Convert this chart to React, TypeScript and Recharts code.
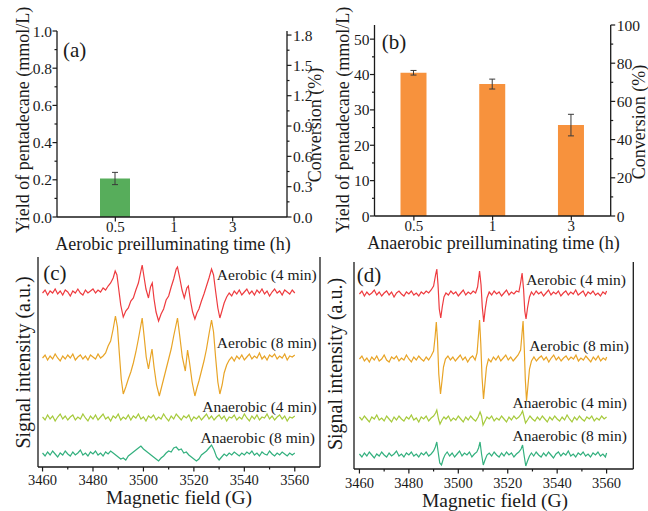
import { BarChart, Bar, XAxis, YAxis, ErrorBar, LineChart, Line } from "recharts";

const SERIF = "'Liberation Serif', 'Times New Roman', Times, 'DejaVu Serif', serif";
const INK = "#1a1a1a";

// (a) aerobic / (b) anaerobic preilluminating time
const timesA = ["0.5", "1", "3"];
const yieldA = [0.207, null, null];
const errA = [0.033, null, null];
const timesB = ["0.5", "1", "3"];
const yieldB = [40.5, 37.3, 25.7];
const errB = [0.65, 1.4, 3.05];

const yTicksA = [0, 0.1, 0.2, 0.3, 0.4, 0.5, 0.6, 0.7, 0.8, 0.9, 1.0];
const convTicksA = [0, 0.15, 0.3, 0.45, 0.6, 0.75, 0.9, 1.05, 1.2, 1.35, 1.5, 1.65, 1.8];
const yTicksB = [0, 5, 10, 15, 20, 25, 30, 35, 40, 45, 50];
const convTicksB = [0, 10, 20, 30, 40, 50, 60, 70, 80, 90, 100];
const fieldTicks = [3460, 3470, 3480, 3490, 3500, 3510, 3520, 3530, 3540, 3550, 3560];

// EPR spectra (field G, offset intensity a.u.)
const cRed: [number, number][] = [[3460,174],[3461,177],[3462,172],[3463,176],[3464,174],[3465,178],[3466,173],[3467,176],[3468,172],[3469,177],[3470,175],[3471,171],[3472,176],[3473,174],[3474,178],[3475,174],[3476,172],[3477,177],[3478,174],[3479,176],[3480,178],[3481,174],[3482,177],[3483,175],[3484,179],[3485,177],[3486,181],[3487,184],[3488,189],[3488.8,196],[3489.5,192],[3490.2,178],[3491,162],[3492,150],[3493,156],[3494,159],[3495,166],[3496,169],[3497,177],[3498,184],[3499,196],[3499.5,202],[3500.3,189],[3501,178],[3502,169],[3502.8,180],[3503.5,184],[3504.2,168],[3505,155],[3506,146],[3507,153],[3508,158],[3509,167],[3510,171],[3511,180],[3512,188],[3513,198],[3513.5,200],[3514.4,189],[3515.3,177],[3516.2,169],[3517.2,179],[3517.8,181],[3518.6,167],[3519.5,155],[3520.4,148],[3521.2,154],[3522,158],[3523,166],[3524,173],[3525,181],[3526,189],[3527,198],[3527.8,192],[3528.6,176],[3529.5,159],[3530.3,149],[3531,155],[3532,164],[3533,170],[3534,174],[3535,171],[3536,176],[3537,173],[3538,177],[3539,172],[3540,175],[3541,178],[3542,173],[3543,176],[3544,172],[3545,177],[3546,174],[3547,178],[3548,173],[3549,176],[3550,171],[3551,175],[3552,178],[3553,174],[3554,176],[3555,172],[3556,177],[3557,175],[3558,173],[3559,177],[3560,174]];
const cOrange: [number, number][] = [[3460,109],[3461,112],[3462,107],[3463,111],[3464,108],[3465,113],[3466,109],[3467,106],[3468,111],[3469,108],[3470,112],[3471,109],[3472,113],[3473,107],[3474,110],[3475,112],[3476,108],[3477,111],[3478,107],[3479,112],[3480,110],[3481,108],[3482,113],[3483,109],[3484,111],[3485,114],[3486,121],[3487,126],[3488,138],[3488.9,151],[3489.7,140],[3490.4,115],[3491.2,88],[3492,73],[3493,80],[3494,88],[3495,95],[3496,104],[3497,115],[3498,128],[3499,142],[3499.5,149],[3500.3,130],[3501.1,110],[3502,98],[3502.8,110],[3503.4,118],[3504.2,100],[3505.2,82],[3506.3,71],[3507.2,80],[3508,88],[3509,98],[3510,108],[3511,118],[3512,131],[3513,143],[3513.5,149],[3514.4,131],[3515.4,110],[3516.6,96],[3517.5,117],[3518.3,104],[3519.3,85],[3520.4,71],[3521.2,79],[3522,86],[3523,96],[3524,106],[3525,118],[3526,133],[3527,147],[3527.8,135],[3528.6,110],[3529.5,85],[3530.3,73],[3531.2,82],[3532,94],[3533,102],[3534,107],[3535,110],[3536,106],[3537,111],[3538,108],[3539,112],[3540,107],[3541,110],[3542,113],[3543,108],[3544,111],[3545,109],[3546,114],[3547,108],[3548,111],[3549,107],[3550,112],[3551,110],[3552,113],[3553,108],[3554,111],[3555,109],[3556,113],[3557,107],[3558,111],[3559,110],[3560,112]];
const cLime: [number, number][] = [[3460,50],[3461,47],[3462,52],[3463,48],[3464,51],[3465,46],[3466,50],[3467,53],[3468,48],[3469,51],[3470,47],[3471,50],[3472,52],[3473,47],[3474,50],[3475,48],[3476,53],[3477,49],[3478,46],[3479,51],[3480,48],[3481,52],[3482,47],[3483,50],[3484,53],[3485,48],[3486,50],[3487,46],[3488,51],[3489,49],[3490,53],[3491,47],[3492,50],[3493,48],[3494,52],[3495,47],[3496,51],[3497,49],[3498,53],[3499,48],[3500,50],[3501,46],[3502,51],[3503,49],[3504,52],[3505,47],[3506,50],[3507,48],[3508,53],[3509,49],[3510,46],[3511,51],[3512,48],[3513,53],[3514,50],[3515,47],[3516,51],[3517,49],[3518,52],[3519,46],[3520,50],[3521,48],[3522,51],[3523,47],[3524,50],[3525,53],[3526,48],[3527,51],[3528,47],[3529,50],[3530,52],[3531,48],[3532,51],[3533,46],[3534,50],[3535,49],[3536,52],[3537,47],[3538,50],[3539,48],[3540,53],[3541,49],[3542,46],[3543,51],[3544,48],[3545,52],[3546,47],[3547,50],[3548,49],[3549,53],[3550,48],[3551,51],[3552,47],[3553,50],[3554,52],[3555,48],[3556,51],[3557,46],[3558,50],[3559,49],[3560,51]];
const cTeal: [number, number][] = [[3460,14],[3461,11],[3462,15],[3463,12],[3464,16],[3465,13],[3466,10],[3467,14],[3468,12],[3469,16],[3470,13],[3471,11],[3472,15],[3473,12],[3474,14],[3475,17],[3476,12],[3477,14],[3478,11],[3479,15],[3480,13],[3481,16],[3482,12],[3483,14],[3484,11],[3485,15],[3486,13],[3487,16],[3488,14],[3489,12],[3490,10],[3491,8],[3492,9],[3493,7],[3494,11],[3495,13],[3496,15],[3497,17],[3498,19],[3499,21],[3500,18],[3501,16],[3502,14],[3503,12],[3504,10],[3505,8],[3506,6],[3507,9],[3508,11],[3509,14],[3510,16],[3511,15],[3512,19],[3513,20],[3514,17],[3515,18],[3516,14],[3517,15],[3518,12],[3519,10],[3520,8],[3521,6],[3522,8],[3523,12],[3524,14],[3525,16],[3526,19],[3527,22],[3528,17],[3529,10],[3530,7],[3531,10],[3532,13],[3533,11],[3534,14],[3535,12],[3536,15],[3537,13],[3538,11],[3539,14],[3540,12],[3541,15],[3542,13],[3543,16],[3544,12],[3545,14],[3546,11],[3547,15],[3548,13],[3549,12],[3550,16],[3551,13],[3552,11],[3553,14],[3554,12],[3555,15],[3556,13],[3557,11],[3558,14],[3559,12],[3560,14]];

const dRed: [number, number][] = [[3460,175],[3461,178],[3462,173],[3463,177],[3464,174],[3465,176],[3466,179],[3467,174],[3468,177],[3469,173],[3470,176],[3471,178],[3472,174],[3473,177],[3474,172],[3475,176],[3476,178],[3477,175],[3478,173],[3479,177],[3480,175],[3481,178],[3482,174],[3483,176],[3484,173],[3485,177],[3486,175],[3487,178],[3488,176],[3489,179],[3490,183],[3490.8,194],[3491.3,200],[3491.8,184],[3492.3,160],[3492.9,151],[3493.5,162],[3494.2,172],[3495,176],[3496,174],[3497,178],[3498,175],[3499,177],[3500,173],[3501,176],[3502,179],[3503,174],[3504,177],[3505,175],[3506,178],[3507,176],[3507.8,182],[3508.6,198],[3509.2,184],[3509.7,162],[3510.3,147],[3510.9,160],[3511.6,171],[3512.5,177],[3513.5,174],[3514.5,178],[3515.5,175],[3516.5,177],[3517.5,173],[3518.5,176],[3519.5,179],[3520.5,174],[3521.5,177],[3522.5,175],[3523.5,178],[3524.5,177],[3525.2,186],[3525.8,196],[3526.4,180],[3526.9,158],[3527.4,150],[3528,161],[3528.8,172],[3529.6,177],[3530.5,174],[3531.5,178],[3532.5,175],[3533.5,177],[3534.5,173],[3535.5,176],[3536.5,179],[3537.5,174],[3538.5,177],[3539.5,175],[3540.5,178],[3541.5,173],[3542.5,176],[3543.5,178],[3544.5,174],[3545.5,177],[3546.5,175],[3547.5,179],[3548.5,174],[3549.5,176],[3550.5,178],[3551.5,173],[3552.5,177],[3553.5,175],[3554.5,178],[3555.5,174],[3556.5,176],[3557.5,173],[3558.5,177],[3559.5,175],[3560,178]];
const dOrange: [number, number][] = [[3460,110],[3461,113],[3462,108],[3463,111],[3464,107],[3465,112],[3466,109],[3467,113],[3468,108],[3469,110],[3470,114],[3471,109],[3472,107],[3473,112],[3474,110],[3475,113],[3476,108],[3477,111],[3478,109],[3479,114],[3480,110],[3481,107],[3482,112],[3483,109],[3484,113],[3485,110],[3486,108],[3487,112],[3488,109],[3489,113],[3490,118],[3490.6,132],[3491.1,147],[3491.6,128],[3492.1,95],[3492.8,75],[3493.4,88],[3494,102],[3494.8,110],[3495.8,113],[3496.8,109],[3497.8,112],[3498.8,108],[3499.8,111],[3500.8,114],[3501.8,109],[3502.8,112],[3503.8,107],[3504.8,111],[3505.8,113],[3506.8,109],[3507.6,116],[3508.1,132],[3508.6,149],[3509.1,125],[3509.6,92],[3510.2,70],[3510.8,86],[3511.4,102],[3512.2,110],[3513.2,107],[3514.2,112],[3515.2,109],[3516.2,113],[3517.2,108],[3518.2,111],[3519.2,114],[3520.2,109],[3521.2,112],[3522.2,108],[3523.2,111],[3524.2,114],[3525.2,119],[3525.7,133],[3526.2,148],[3526.7,120],[3527.1,90],[3527.6,68],[3528.2,84],[3528.8,100],[3529.6,108],[3530.6,112],[3531.6,108],[3532.6,111],[3533.6,113],[3534.6,109],[3535.6,112],[3536.6,107],[3537.6,111],[3538.6,114],[3539.6,109],[3540.6,112],[3541.6,108],[3542.6,111],[3543.6,113],[3544.6,109],[3545.6,112],[3546.6,110],[3547.6,114],[3548.6,108],[3549.6,111],[3550.6,109],[3551.6,113],[3552.6,110],[3553.6,107],[3554.6,112],[3555.6,109],[3556.6,113],[3557.6,108],[3558.6,111],[3559.6,109],[3560,112]];
const dLime: [number, number][] = [[3460,52],[3461,49],[3462,53],[3463,50],[3464,47],[3465,52],[3466,50],[3467,54],[3468,49],[3469,51],[3470,48],[3471,53],[3472,50],[3473,47],[3474,52],[3475,49],[3476,53],[3477,50],[3478,48],[3479,52],[3480,50],[3481,54],[3482,49],[3483,51],[3484,47],[3485,52],[3486,50],[3487,53],[3488,48],[3489,51],[3490,53],[3490.8,56],[3491.3,59],[3492,50],[3492.6,45],[3493.4,49],[3494.2,52],[3495,50],[3496,53],[3497,48],[3498,51],[3499,49],[3500,53],[3501,50],[3502,47],[3503,52],[3504,49],[3505,53],[3506,50],[3507,48],[3508,52],[3508.8,57],[3509.4,53],[3510,44],[3510.8,48],[3511.6,52],[3512.5,50],[3513.5,53],[3514.5,48],[3515.5,51],[3516.5,49],[3517.5,53],[3518.5,50],[3519.5,47],[3520.5,52],[3521.5,49],[3522.5,53],[3523.5,50],[3524.5,52],[3525.4,55],[3526,58],[3526.6,52],[3527.2,46],[3528,49],[3529,53],[3530,50],[3531,48],[3532,52],[3533,49],[3534,53],[3535,50],[3536,47],[3537,52],[3538,49],[3539,53],[3540,50],[3541,48],[3542,52],[3543,49],[3544,54],[3545,50],[3546,47],[3547,52],[3548,49],[3549,53],[3550,50],[3551,48],[3552,52],[3553,50],[3554,53],[3555,48],[3556,51],[3557,49],[3558,53],[3559,50],[3560,52]];
const dTeal: [number, number][] = [[3460,15],[3461,12],[3462,16],[3463,13],[3464,17],[3465,14],[3466,11],[3467,15],[3468,13],[3469,17],[3470,14],[3471,12],[3472,16],[3473,13],[3474,15],[3475,18],[3476,13],[3477,15],[3478,12],[3479,16],[3480,14],[3481,17],[3482,13],[3483,15],[3484,12],[3485,16],[3486,14],[3487,17],[3488,13],[3489,15],[3490,18],[3490.7,22],[3491.3,27],[3491.9,16],[3492.5,6],[3493.2,4],[3493.9,10],[3494.6,14],[3495.5,17],[3496.5,13],[3497.5,16],[3498.5,12],[3499.5,15],[3500.5,18],[3501.5,13],[3502.5,16],[3503.5,14],[3504.5,17],[3505.5,12],[3506.5,15],[3507.5,17],[3508.2,21],[3508.8,27],[3509.4,15],[3510.1,4],[3510.8,9],[3511.6,14],[3512.5,16],[3513.5,13],[3514.5,17],[3515.5,14],[3516.5,12],[3517.5,16],[3518.5,13],[3519.5,17],[3520.5,14],[3521.5,16],[3522.5,12],[3523.5,15],[3524.5,17],[3525.4,20],[3526,24],[3526.6,14],[3527.3,3],[3528,8],[3528.8,13],[3529.6,16],[3530.5,13],[3531.5,17],[3532.5,14],[3533.5,12],[3534.5,16],[3535.5,13],[3536.5,17],[3537.5,14],[3538.5,11],[3539.5,15],[3540.5,17],[3541.5,13],[3542.5,16],[3543.5,14],[3544.5,18],[3545.5,13],[3546.5,15],[3547.5,12],[3548.5,16],[3549.5,14],[3550.5,17],[3551.5,13],[3552.5,15],[3553.5,12],[3554.5,16],[3555.5,14],[3556.5,17],[3557.5,13],[3558.5,15],[3559.5,12],[3560,16]];

const RED = "#EE3B3F";
const ORANGE = "#E8A426";
const LIME = "#A6CA3C";
const TEAL = "#33B07E";

const pts = (a: [number, number][]) => a.map(([x, y]) => ({ x, y }));
const frame = { stroke: INK, strokeWidth: 1.3 };

type TickOpts = {
  side: "left" | "right" | "bottom";
  major?: (v: any) => boolean;
  fmt?: (v: any) => string;
  gap: number;
  size?: number;
};

function makeTick({ side, major = () => true, fmt = String, gap, size = 15.5 }: TickOpts) {
  return (props: any) => {
    const { x, y, payload } = props;
    const v = payload.value;
    const big = major(v);
    const len = big ? 4.5 : 2.5;
    const txt = { fontFamily: SERIF, fontSize: size, fill: INK, style: { fontFamily: SERIF } };
    if (side === "bottom") {
      return (
        <g>
          <line x1={x} x2={x} y1={y} y2={y + len} stroke={INK} strokeWidth={1.2} />
          {big && (
            <text x={x} y={y + gap} textAnchor="middle" dominantBaseline="central" {...txt}>
              {fmt(v)}
            </text>
          )}
        </g>
      );
    }
    const dir = side === "left" ? -1 : 1;
    return (
      <g>
        <line x1={x} x2={x + dir * len} y1={y} y2={y} stroke={INK} strokeWidth={1.2} />
        {big && (
          <text
            x={x + dir * gap}
            y={y}
            textAnchor={side === "left" ? "end" : "start"}
            dominantBaseline="central"
            {...txt}
          >
            {fmt(v)}
          </text>
        )}
      </g>
    );
  };
}

function Title({ text, px, py, rot = 0, size = 18 }: { text: string; px: number; py: number; rot?: number; size?: number }) {
  return (
    <text
      x={px}
      y={py}
      transform={rot ? `rotate(${rot} ${px} ${py})` : undefined}
      textAnchor="middle"
      dominantBaseline="central"
      fontFamily={SERIF}
      style={{ fontFamily: SERIF }}
      fontSize={size}
      fill={INK}
    >
      {text}
    </text>
  );
}

function Note({ text, left, right, cy, size = 15.5 }: { text: string; left?: number; right?: number; cy: number; size?: number }) {
  return (
    <div
      style={{
        position: "absolute",
        left,
        right: right !== undefined ? 648 - right : undefined,
        top: cy,
        transform: "translateY(-50%)",
        fontFamily: SERIF,
        fontSize: size,
        lineHeight: 1,
        color: INK,
        whiteSpace: "nowrap",
      }}
    >
      {text}
    </div>
  );
}

function YieldPanel({ cats, vals, errs, yMax, yTicks, yMajor, yFmt, convMax, convTicks, convMajor, xTitle, pad, barSize, color, layout }: any) {
  const data = cats.map((t: string, i: number) => ({ t, y: vals[i], e: errs[i] }));
  return (
    <BarChart width={324} height={255} data={data} margin={{ top: layout.top, right: 0, bottom: 0, left: 0 }}>
      <XAxis
        dataKey="t"
        height={layout.xh}
        padding={pad}
        interval={0}
        tickSize={0}
        tickMargin={0}
        tick={makeTick({ side: "bottom", gap: layout.xgap, size: 15 })}
        axisLine={frame}
        label={<Title text={xTitle} px={layout.xtx} py={layout.xty} />}
      />
      <XAxis xAxisId="top" dataKey="t" orientation="top" height={0} padding={pad} tick={false} tickLine={false} axisLine={frame} />
      <YAxis
        yAxisId="l"
        type="number"
        domain={[0, yMax]}
        allowDataOverflow
        ticks={yTicks}
        interval={0}
        width={layout.lw}
        tickSize={0}
        tickMargin={0}
        tick={makeTick({ side: "left", gap: 5, major: yMajor, fmt: yFmt })}
        axisLine={frame}
        label={<Title text="Yield of pentadecane (mmol/L)" px={layout.ltx} py={120} rot={-90} />}
      />
      <YAxis
        yAxisId="r"
        orientation="right"
        type="number"
        domain={[0, convMax]}
        allowDataOverflow
        ticks={convTicks}
        interval={0}
        width={layout.rw}
        tickSize={0}
        tickMargin={0}
        tick={makeTick({ side: "right", gap: 6, major: convMajor, fmt: yFmt })}
        axisLine={frame}
        label={<Title text="Conversion (%)" px={315} py={layout.rty} rot={-90} />}
      />
      <Bar yAxisId="l" dataKey="y" fill={color} barSize={barSize} isAnimationActive={false}>
        <ErrorBar dataKey="e" width={3} stroke="#3a3a3a" strokeWidth={1} />
      </Bar>
    </BarChart>
  );
}

function EprPanel({ series, domain, yMax, layout }: any) {
  return (
    <LineChart width={324} height={261} margin={{ top: layout.top, right: 0, bottom: 0, left: 0 }}>
      <XAxis
        type="number"
        dataKey="x"
        domain={domain}
        allowDataOverflow
        ticks={fieldTicks}
        interval={0}
        height={layout.xh}
        tickSize={0}
        tickMargin={0}
        tick={makeTick({ side: "bottom", gap: layout.xgap, size: 14.5, major: (v: number) => v % 20 === 0 })}
        axisLine={frame}
        label={<Title text="Magnetic field (G)" px={layout.xtx} py={layout.xty} size={19.5} />}
      />
      <XAxis xAxisId="top" type="number" dataKey="x" domain={domain} allowDataOverflow orientation="top" height={0} tick={false} tickLine={false} axisLine={frame} />
      <YAxis
        type="number"
        domain={[0, yMax]}
        allowDataOverflow
        width={layout.lw}
        tick={false}
        tickLine={false}
        axisLine={frame}
        label={<Title text="Signal intensity (a.u.)" px={layout.ltx} py={layout.lty} rot={-90} size={20} />}
      />
      <YAxis yAxisId="r" orientation="right" type="number" domain={[0, yMax]} width={layout.rw} tick={false} tickLine={false} axisLine={frame} />
      {series.map((s: any) => (
        <Line
          key={s.name}
          data={pts(s.data)}
          dataKey="y"
          type="linear"
          stroke={s.color}
          strokeWidth={1.2}
          dot={false}
          isAnimationActive={false}
        />
      ))}
    </LineChart>
  );
}

export default function App() {
  return (
    <div style={{ position: "absolute", left: 0, top: 0, width: 648, height: 511, background: "#fff", overflow: "hidden", fontFamily: SERIF }}>
      <div style={{ position: "absolute", left: 0, top: 0 }}>
        <YieldPanel
          cats={timesA}
          vals={yieldA}
          errs={errA}
          yMax={1}
          yTicks={yTicksA}
          yMajor={(v: number) => Math.round(v * 10) % 2 === 0}
          yFmt={(v: number) => v.toFixed(1)}
          convMax={1.84}
          convTicks={convTicksA}
          convMajor={(v: number) => Math.round(v * 100) % 30 === 0}
          xTitle="Aerobic preilluminating time (h)"
          pad={{ left: 29, right: 25 }}
          barSize={30}
          color="#57AD5B"
          layout={{ top: 31, xh: 38, xgap: 10, xtx: 173, xty: 243.5, lw: 57, rw: 37, ltx: 23, rty: 125 }}
        />
      </div>
      <div style={{ position: "absolute", left: 324, top: 0 }}>
        <YieldPanel
          cats={timesB}
          vals={yieldB}
          errs={errB}
          yMax={54}
          yTicks={yTicksB}
          yMajor={(v: number) => v % 10 === 0}
          yFmt={(v: number) => String(v)}
          convMax={100}
          convTicks={convTicksB}
          convMajor={(v: number) => v % 20 === 0}
          xTitle="Anaerobic preilluminating time (h)"
          pad={{ left: 0, right: 0 }}
          barSize={26}
          color="#F7923D"
          layout={{ top: 25, xh: 39, xgap: 9.5, xtx: 169.5, xty: 242.5, lw: 50.5, rw: 37.3, ltx: 19, rty: 122 }}
        />
      </div>
      <div style={{ position: "absolute", left: 0, top: 250 }}>
        <EprPanel
          domain={[3458.2, 3570]}
          yMax={210}
          series={[
            { name: "c-a4", data: cRed, color: RED },
            { name: "c-a8", data: cOrange, color: ORANGE },
            { name: "c-n4", data: cLime, color: LIME },
            { name: "c-n8", data: cTeal, color: TEAL },
          ]}
          layout={{ top: 7, xh: 44, xgap: 13, xtx: 179, xty: 247.5, lw: 38, rw: 4, ltx: 23, lty: 112.5 }}
        />
      </div>
      <div style={{ position: "absolute", left: 324, top: 250 }}>
        <EprPanel
          domain={[3457.8, 3570.8]}
          yMax={207}
          series={[
            { name: "d-a4", data: dRed, color: RED },
            { name: "d-a8", data: dOrange, color: ORANGE },
            { name: "d-n4", data: dLime, color: LIME },
            { name: "d-n8", data: dTeal, color: TEAL },
          ]}
          layout={{ top: 12, xh: 42, xgap: 13.5, xtx: 171, xty: 250.5, lw: 30, rw: 14.7, ltx: 11, lty: 114 }}
        />
      </div>

      <Note text="(a)" left={63} cy={50} size={21} />
      <Note text="(b)" left={381.7} cy={41.7} size={21} />
      <Note text="(c)" left={43.3} cy={273.3} size={21} />
      <Note text="(d)" left={356.7} cy={275} size={21} />

      <Note text="Aerobic (4 min)" right={316.7} cy={275} />
      <Note text="Aerobic (8 min)" right={316.7} cy={342.7} />
      <Note text="Anaerobic (4 min)" right={316.7} cy={406.7} />
      <Note text="Anaerobic (8 min)" right={315} cy={437.7} />

      <Note text="Aerobic (4 min)" right={626} cy={280} />
      <Note text="Aerobic (8 min)" right={629} cy={346} />
      <Note text="Anaerobic (4 min)" right={627} cy={403.3} />
      <Note text="Anaerobic (8 min)" right={627} cy={436} />
    </div>
  );
}
